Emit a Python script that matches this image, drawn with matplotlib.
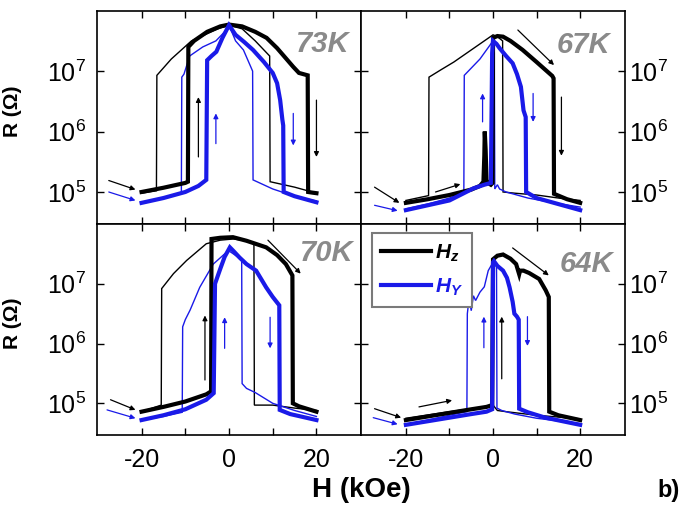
import numpy as np
import matplotlib
matplotlib.use("Agg")
import matplotlib.pyplot as plt
from matplotlib.ticker import NullLocator

plt.rcParams['font.family'] = ['Liberation Sans', 'DejaVu Sans']
plt.rcParams['mathtext.fontset'] = 'custom'
plt.rcParams['mathtext.it'] = 'Liberation Sans:italic:bold'
plt.rcParams['mathtext.rm'] = 'Liberation Sans'
plt.rcParams['mathtext.bf'] = 'Liberation Sans:bold'

BLACK = '#000000'
BLUE = '#1a1ae8'
GRAY = '#8a8a8a'

# field in kOe, resistance as log10(R / Ohm)
# ---- 73 K ----
H73_Z_THICK = [-20, -15, -10, -9.4, -9.3, -8, -5, -2, 0, 3, 6, 8.6, 11, 14.7, 16, 18, 18.1, 19, 20]
R73_Z_THICK = [5.0, 5.07, 5.15, 5.17, 7.4, 7.5, 7.65, 7.74, 7.77, 7.74, 7.65, 7.55, 7.38, 7.07, 6.97, 6.93, 5.0, 4.99, 4.98]
H73_Z_THIN = [-20, -16.6, -16.5, -13.2, -8.6, -2.5, 0, 3, 6, 9.3, 9.4, 15, 20]
R73_Z_THIN = [4.98, 5.02, 6.93, 7.2, 7.5, 7.7, 7.76, 7.7, 7.5, 7.25, 5.17, 5.08, 4.98]
H73_Y_THICK = [-20, -15, -10, -7, -5.2, -5, -4, -2.9, -1.5, 0, 1.5, 3.5, 5.5, 8, 10, 11, 11.7, 12.2, 12.4, 12.5, 15, 20]
R73_Y_THICK = [4.82, 4.9, 5.0, 5.1, 5.2, 7.18, 7.25, 7.32, 7.55, 7.76, 7.6, 7.48, 7.35, 7.15, 6.97, 6.8, 6.52, 6.2, 6.1, 5.0, 4.93, 4.83]
H73_Y_THIN = [-20, -15, -10.9, -10.8, -10.3, -9, -6, -3, -1, 0, 1.5, 3.3, 5.4, 5.5, 10, 15, 20]
R73_Y_THIN = [4.83, 4.9, 4.97, 6.9, 6.95, 7.25, 7.4, 7.5, 7.65, 7.76, 7.5, 7.35, 7.0, 5.2, 5.05, 4.93, 4.85]

# ---- 67 K ----
H67_Z_THICK = [-20, -15, -10, -5, -3, -2.2, -2.0, -1.9, -1.7, -1.5, -1.2, -0.5, -0.1, 0, 1, 2.3, 4, 6.8, 10, 13.6, 13.9, 14, 17, 20]
R67_Z_THICK = [4.82, 4.88, 4.95, 5.04, 5.1, 5.17, 5.6, 6.0, 5.7, 5.2, 5.15, 5.12, 5.15, 7.55, 7.58, 7.57, 7.5, 7.35, 7.15, 6.92, 6.88, 4.97, 4.88, 4.82]
H67_Z_THIN = [-20, -14.8, -14.7, -12, -9, -6, -3, -1, 0, 1, 2.2, 2.3, 5, 10, 15, 20]
R67_Z_THIN = [4.86, 4.94, 6.9, 7.02, 7.15, 7.3, 7.45, 7.55, 7.6, 7.57, 7.5, 5.0, 4.98, 4.95, 4.9, 4.86]
H67_Y_THICK = [-20, -15, -10, -4.5, -2, -0.5, -0.2, 0, 0.8, 1.5, 3, 4.5, 5.5, 6.4, 7.0, 7.5, 7.6, 10, 15, 20]
R67_Y_THICK = [4.70, 4.78, 4.86, 5.06, 5.12, 5.15, 7.3, 7.5, 7.45, 7.38, 7.25, 7.13, 6.95, 6.74, 6.35, 6.24, 5.0, 4.9, 4.8, 4.70]
H67_Y_THIN = [-20, -15, -10, -6.7, -6.6, -5, -3, -1.5, 0, 0.3, 0.4, 1, 1.5, 3, 8, 14, 20]
R67_Y_THIN = [4.72, 4.8, 4.9, 5.0, 6.93, 7.05, 7.2, 7.35, 7.5, 7.3, 5.05, 5.12, 5.05, 5.0, 4.9, 4.82, 4.75]

# ---- 70 K ----
H70_Z_THICK = [-20, -15, -10, -5.2, -4.1, -4.0, -2, 0.9, 4, 8.5, 11, 13, 14.5, 14.6, 16, 20]
R70_Z_THICK = [4.86, 4.94, 5.03, 5.15, 5.2, 7.75, 7.77, 7.78, 7.72, 7.61, 7.48, 7.33, 7.14, 5.0, 4.95, 4.86]
H70_Z_THIN = [-20, -15.5, -15.4, -12.7, -9.7, -5.2, -2, 1, 4, 5.7, 5.8, 10, 15, 20]
R70_Z_THIN = [4.86, 4.97, 6.92, 7.17, 7.39, 7.67, 7.73, 7.75, 7.72, 7.68, 4.97, 4.97, 4.92, 4.88]
H70_Y_THICK = [-20, -15, -10, -5.2, -3.5, -3.2, -2, -1, 0.2, 1, 2.4, 4, 6.2, 8.5, 10, 11.5, 11.6, 14, 20]
R70_Y_THICK = [4.72, 4.8, 4.9, 5.06, 5.17, 7.0, 7.25, 7.45, 7.61, 7.55, 7.44, 7.33, 7.22, 6.94, 6.78, 6.64, 4.89, 4.82, 4.72]
H70_Y_THIN = [-20, -15, -10.7, -10.6, -10, -8.9, -6.7, -3.6, -1, 0, 1, 2.9, 3.0, 4, 6, 10, 15, 20]
R70_Y_THIN = [4.72, 4.78, 4.85, 6.28, 6.4, 6.56, 6.94, 7.33, 7.5, 7.55, 7.5, 7.4, 5.33, 5.25, 5.18, 5.0, 4.88, 4.78]

# ---- 64 K ----
H64_Z_THICK = [-20, -15, -10, -5, -1.5, -0.2, 0, 1, 2.3, 4, 5.3, 6.0, 6.2, 7, 8.3, 10.6, 12.1, 12.8, 12.9, 15, 20]
R64_Z_THICK = [4.72, 4.78, 4.84, 4.9, 4.94, 4.97, 7.41, 7.47, 7.49, 7.42, 7.33, 7.16, 7.22, 7.22, 7.18, 7.08, 6.89, 6.78, 4.86, 4.8, 4.72]
H64_Z_THIN = [-20, -10, -3, 0, 1, 3, 10, 20]
R64_Z_THIN = [4.75, 4.86, 4.93, 4.97, 4.88, 4.86, 4.8, 4.74]
H64_Y_THICK = [-20, -15, -10, -5, -1.5, -0.2, 0, 0.2, 1, 2.3, 3.2, 3.8, 4.5, 4.9, 5.5, 5.9, 6.0, 8, 12, 20]
R64_Y_THICK = [4.64, 4.7, 4.76, 4.82, 4.86, 4.9, 7.36, 7.38, 7.3, 7.22, 7.1, 6.94, 6.7, 6.5, 6.45, 6.4, 4.91, 4.85, 4.76, 4.64]
H64_Y_THIN = [-20, -15, -10, -6.0, -5.9, -5.5, -5.0, -4.5, -4, -3, -2, -1.1, 0, 0.8, 0.9, 2, 5, 10, 20]
R64_Y_THIN = [4.64, 4.72, 4.8, 4.86, 6.5, 6.75, 6.55, 6.8, 6.72, 6.86, 6.95, 7.22, 7.36, 7.3, 4.92, 4.88, 4.82, 4.75, 4.66]

X_TICKS = [-20, -10, 0, 10, 20]
X_TICK_LABELS = ['-20', '', '0', '', '20']
Y_TICKS = [1e5, 1e6, 1e7]


def draw_arrow(ax, start, end, color):
    ax.annotate('', xy=(end[0], 10 ** end[1]), xytext=(start[0], 10 ** start[1]),
                arrowprops=dict(arrowstyle='-|>', color=color, lw=0.9,
                                mutation_scale=7, shrinkA=0, shrinkB=0))


def draw_panel(ax, label, curves, arrows, right_side, bottom_row, label_pos):
    for h, logr, color, lw in curves:
        ax.plot(h, 10 ** np.array(logr), color=color, lw=lw, solid_joinstyle='miter')
    for start, end, color in arrows:
        draw_arrow(ax, start, end, color)

    ax.set_yscale('log')
    ax.set_xlim(-30.2, 30.3)
    ax.set_ylim(2.95e4, 1e8)
    ax.set_xticks(X_TICKS)
    ax.set_yticks(Y_TICKS)
    ax.yaxis.set_minor_locator(NullLocator())
    ax.xaxis.set_minor_locator(NullLocator())
    if bottom_row:
        ax.set_xticklabels(X_TICK_LABELS)
    else:
        ax.set_xticklabels([])
    ax.tick_params(direction='in', top=True, bottom=True, left=True, right=True,
                   length=5, width=1.0, labelsize=18,
                   labelleft=not right_side, labelright=right_side)
    ax.tick_params(axis='x', pad=9)
    ax.tick_params(axis='y', pad=3 if right_side else 8)
    for s in ax.spines.values():
        s.set_linewidth(1.2)

    ax.text(label_pos[0], label_pos[1], label, transform=ax.transAxes, ha='right', va='center',
            fontsize=21, fontweight='bold', fontstyle='italic', color=GRAY)

    if not right_side:
        ax.set_ylabel('R (\u03a9)', fontsize=15, fontweight='bold')
        ax.yaxis.set_label_coords(-0.285, 0.53)


def main():
    fig = plt.figure(figsize=(6.81, 5.08), dpi=100)
    x0, x1, x2 = 0.1424, 0.5308, 0.9178
    y0, y1, y2 = 0.1437, 0.559, 0.979
    ax73 = fig.add_axes([x0, y1, x1 - x0, y2 - y1])
    ax67 = fig.add_axes([x1, y1, x2 - x1, y2 - y1])
    ax70 = fig.add_axes([x0, y0, x1 - x0, y1 - y0])
    ax64 = fig.add_axes([x1, y0, x2 - x1, y1 - y0])

    thick, thin = 3.0, 1.0

    draw_panel(ax73, '73K',
               [(H73_Z_THIN, R73_Z_THIN, BLACK, thin), (H73_Y_THIN, R73_Y_THIN, BLUE, thin),
                (H73_Z_THICK, R73_Z_THICK, BLACK, thick), (H73_Y_THICK, R73_Y_THICK, BLUE, thick)],
               [((-27.5, 5.19), (-21.4, 5.04), BLACK), ((-27.5, 5.0), (-21.4, 4.86), BLUE),
                ((-7, 5.58), (-7, 6.57), BLACK), ((-3, 5.8), (-3, 6.3), BLUE),
                ((20, 6.52), (20, 5.58), BLACK), ((14.7, 6.3), (14.7, 5.77), BLUE)],
               False, False, (0.955, 0.845))

    draw_panel(ax67, '67K',
               [(H67_Z_THIN, R67_Z_THIN, BLACK, thin), (H67_Y_THIN, R67_Y_THIN, BLUE, thin),
                (H67_Z_THICK, R67_Z_THICK, BLACK, thick), (H67_Y_THICK, R67_Y_THICK, BLUE, thick)],
               [((-27.2, 5.08), (-21.5, 4.82), BLACK), ((-27.2, 4.78), (-21.9, 4.69), BLUE),
                ((-13.2, 5.0), (-7.5, 5.13), BLACK), ((-2.4, 6.16), (-2.4, 6.63), BLUE),
                ((9.2, 6.63), (9.2, 6.16), BLUE), ((15.7, 6.57), (15.7, 5.6), BLACK),
                ((5.7, 7.68), (14, 7.1), BLACK)],
               True, False, (0.943, 0.84))

    draw_panel(ax70, '70K',
               [(H70_Z_THIN, R70_Z_THIN, BLACK, thin), (H70_Y_THIN, R70_Y_THIN, BLUE, thin),
                (H70_Z_THICK, R70_Z_THICK, BLACK, thick), (H70_Y_THICK, R70_Y_THICK, BLUE, thick)],
               [((-27.1, 5.06), (-21.4, 4.89), BLACK), ((-27.9, 4.89), (-21.4, 4.75), BLUE),
                ((-5.5, 5.39), (-5.5, 6.47), BLACK), ((-1, 5.92), (-1, 6.44), BLUE),
                ((9.4, 6.44), (9.4, 5.92), BLUE), ((8.9, 7.73), (16.4, 7.17), BLACK)],
               False, True, (0.97, 0.864))

    draw_panel(ax64, '64K',
               [(H64_Z_THIN, R64_Z_THIN, BLACK, thin), (H64_Y_THIN, R64_Y_THIN, BLUE, thin),
                (H64_Z_THICK, R64_Z_THICK, BLACK, thick), (H64_Y_THICK, R64_Y_THICK, BLUE, thick)],
               [((-27.2, 4.91), (-21.1, 4.76), BLACK), ((-27.5, 4.76), (-21.9, 4.65), BLUE),
                ((-17, 4.94), (-9.4, 5.05), BLACK), ((-2.1, 5.93), (-2.1, 6.45), BLUE),
                ((2.0, 5.41), (2.0, 6.45), BLACK), ((7.9, 6.45), (7.9, 5.96), BLUE),
                ((4.5, 7.6), (12.8, 7.14), BLACK)],
               True, True, (0.955, 0.81))

    # legend
    hz, = ax64.plot([], [], color=BLACK, lw=3.0)
    hy, = ax64.plot([], [], color=BLUE, lw=3.0)
    leg = ax64.legend([hz, hy], ['$H_z$', '$H_Y$'], loc='upper left',
                      bbox_to_anchor=(0.04, 0.957), borderaxespad=0, fontsize=15,
                      handlelength=2.4, handletextpad=0.15, labelspacing=0.6,
                      borderpad=0.45, fancybox=False, framealpha=1)
    leg.get_frame().set_edgecolor('#7a7a7a')
    leg.get_frame().set_linewidth(1.5)
    leg.get_texts()[1].set_color(BLUE)

    fig.text(0.53, 0.036, 'H (kOe)', ha='center', va='center', fontsize=20, fontweight='bold')
    fig.text(0.982, 0.035, 'b)', ha='center', va='center', fontsize=17, fontweight='bold')

    fig.savefig('out.png', dpi=100)


if __name__ == "__main__":
    main()
